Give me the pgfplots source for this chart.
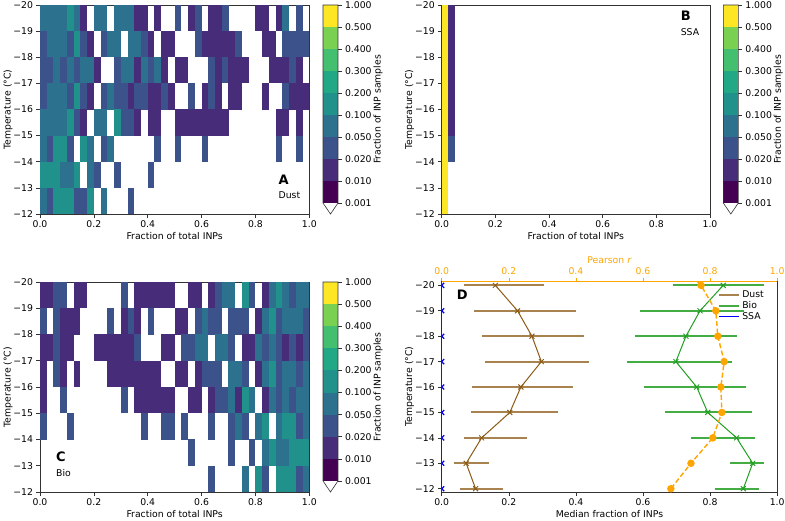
\documentclass[border=0pt]{standalone}
\usepackage{fontspec}
\setmainfont{DejaVu Sans}
\usepackage{pgfplots}
\usepackage{pgfplotstable}
\pgfplotsset{compat=1.18}

% colorbar classes: 0.001,0.01,0.02,0.05,0.1,0.2,0.3,0.4,0.5,1
\definecolor{v1}{RGB}{68,1,84}
\definecolor{v2}{RGB}{71,44,122}
\definecolor{v3}{RGB}{59,82,139}
\definecolor{v4}{RGB}{44,113,142}
\definecolor{v5}{RGB}{33,145,140}
\definecolor{v6}{RGB}{34,168,132}
\definecolor{v7}{RGB}{68,191,112}
\definecolor{v8}{RGB}{122,209,81}
\definecolor{v9}{RGB}{253,231,37}
\definecolor{dustc}{RGB}{139,90,20}
\definecolor{bioc}{RGB}{34,158,34}
\definecolor{mplorange}{RGB}{255,165,0}
\definecolor{spine}{gray}{0.2}

% one heat-map cell (0.025 wide, 1 degC high on these axes)
\pgfdeclareplotmark{hmbox}{%
  \pgfpathrectangle{\pgfpoint{-3.38pt}{-13.15pt}}{\pgfpoint{6.76pt}{26.3pt}}%
  \pgfusepathqfill}

\pgfplotsset{
  colormap={inp}{color(0cm)=(white) color(1cm)=(v1) color(2cm)=(v2) color(3cm)=(v3)
    color(4cm)=(v4) color(5cm)=(v5) color(6cm)=(v6) color(7cm)=(v7) color(8cm)=(v8)
    color(9cm)=(v9) color(10cm)=(v9)},
  every axis/.append style={font=\fontsize{9.3}{11}\selectfont},
  basic/.style={scale only axis, tick align=outside, major tick length=3.5pt,
    axis line style={spine, line width=0.6pt}, tick style={spine, line width=0.6pt},
    tick label style={font=\fontsize{9.3}{11}\selectfont},
    label style={font=\fontsize{9.3}{11}\selectfont}, xlabel shift=-3pt},
  temp/.style={ytick={-20,-19,...,-12},
    yticklabels={−20,−19,−18,−17,−16,−15,−14,−13,−12},
    ylabel={Temperature (°C)}, ylabel shift=-6pt, y dir=reverse},
  frac/.style={xmin=0, xmax=1, xtick={0,0.2,0.4,0.6,0.8,1},
    xticklabels={0.0,0.2,0.4,0.6,0.8,1.0}},
  hm/.style={basic, temp, frac, width=269.3pt, height=209pt, ymin=-20, ymax=-12,
    enlargelimits=false, axis on top, xlabel={Fraction of total INPs},
    xtick pos=left, ytick pos=left,
    colormap name=inp, colormap access=piecewise constant,
    point meta min=0, point meta max=10},
  cbar/.style={basic, width=15pt, xmin=0, xmax=1, ymin=-0.5, ymax=9,
    axis line style={draw=none}, xtick=\empty, ytick={0,...,9},
    yticklabels={0.001,0.010,0.020,0.050,0.100,0.200,0.300,0.400,0.500,1.000},
    ytick pos=right, yticklabel pos=right, ylabel={Fraction of INP samples},
    ylabel near ticks, ylabel shift=-5pt, clip=false},
  hmgrid/.style={scatter, only marks, mark=hmbox, point meta=explicit,
    scatter/use mapped color={draw=none, fill=mapped color},
    restrict expr to domain={\thisrow{b}}{0.5:9.5}},
}

% colour class of every cell (0 = no sample, 1..9 = colorbar bands),
% 40 columns of width 0.025, rows from -20 to -12 degC
\pgfplotstableread[row sep=\\]{
b\\
4\\4\\4\\4\\5\\4\\2\\0\\4\\4\\0\\4\\4\\4\\2\\2\\0\\2\\0\\0\\3\\0\\2\\3\\0\\2\\2\\3\\0\\0\\0\\0\\2\\2\\0\\2\\4\\0\\3\\0\\
3\\4\\4\\4\\3\\5\\3\\2\\0\\3\\4\\4\\0\\4\\4\\3\\2\\0\\2\\2\\0\\0\\0\\3\\2\\2\\2\\2\\2\\3\\0\\0\\0\\2\\2\\0\\3\\3\\3\\3\\
3\\3\\4\\3\\4\\3\\4\\4\\2\\0\\0\\3\\4\\4\\2\\4\\3\\4\\2\\0\\2\\2\\0\\0\\0\\3\\2\\3\\2\\2\\2\\0\\0\\0\\2\\2\\2\\3\\2\\0\\
3\\4\\4\\4\\3\\5\\3\\2\\0\\3\\4\\3\\3\\2\\3\\3\\2\\2\\3\\2\\0\\0\\3\\0\\2\\3\\2\\0\\2\\2\\0\\0\\0\\2\\0\\0\\3\\2\\2\\2\\
4\\4\\4\\4\\5\\3\\2\\0\\4\\4\\0\\5\\3\\3\\2\\0\\2\\2\\0\\0\\2\\2\\2\\2\\2\\2\\2\\2\\0\\0\\0\\0\\0\\0\\0\\2\\2\\0\\2\\0\\
4\\3\\5\\5\\3\\0\\5\\4\\0\\3\\4\\0\\0\\0\\0\\0\\0\\3\\0\\0\\3\\0\\0\\0\\3\\0\\0\\0\\0\\0\\0\\0\\0\\0\\0\\3\\0\\0\\3\\0\\
5\\5\\5\\4\\4\\5\\0\\4\\3\\0\\0\\3\\0\\0\\0\\0\\3\\0\\0\\0\\0\\0\\0\\0\\0\\0\\0\\0\\0\\0\\0\\0\\0\\0\\0\\0\\0\\0\\0\\0\\
4\\3\\5\\5\\5\\3\\3\\5\\0\\4\\0\\0\\0\\3\\0\\0\\0\\0\\0\\0\\0\\0\\0\\0\\0\\0\\0\\0\\0\\0\\0\\0\\0\\0\\0\\0\\0\\0\\0\\0\\
}\dustgrid

\pgfplotstableread[row sep=\\]{
b\\
9\\2\\
9\\2\\
9\\2\\
9\\2\\
9\\2\\
9\\3\\
9\\0\\
9\\0\\
}\ssagrid

\pgfplotstableread[row sep=\\]{
b\\
2\\2\\3\\3\\0\\2\\2\\0\\0\\0\\0\\0\\3\\0\\2\\2\\2\\2\\2\\2\\0\\0\\2\\2\\0\\2\\3\\4\\4\\0\\5\\3\\0\\2\\4\\5\\4\\3\\4\\4\\
3\\0\\3\\2\\2\\2\\0\\0\\0\\0\\3\\0\\2\\3\\2\\0\\3\\0\\0\\0\\2\\2\\0\\3\\4\\3\\3\\0\\3\\3\\3\\0\\2\\4\\5\\3\\4\\4\\4\\3\\
2\\2\\3\\2\\2\\0\\0\\0\\2\\2\\2\\2\\2\\2\\3\\0\\0\\0\\2\\2\\0\\3\\3\\4\\4\\0\\4\\4\\3\\0\\2\\2\\4\\3\\4\\3\\2\\3\\2\\3\\
2\\0\\3\\2\\0\\2\\0\\0\\0\\0\\2\\2\\2\\2\\2\\2\\2\\2\\0\\0\\2\\2\\0\\2\\3\\3\\3\\0\\4\\4\\3\\0\\2\\4\\5\\3\\4\\4\\3\\4\\
2\\0\\0\\3\\0\\0\\0\\0\\0\\0\\0\\0\\3\\0\\2\\2\\2\\2\\2\\2\\0\\0\\2\\2\\0\\2\\3\\3\\4\\2\\5\\4\\0\\2\\4\\3\\4\\3\\4\\4\\
3\\0\\0\\0\\3\\0\\0\\0\\0\\0\\0\\0\\0\\0\\0\\3\\0\\0\\3\\3\\0\\3\\0\\0\\0\\3\\0\\0\\3\\4\\3\\0\\4\\5\\0\\4\\5\\5\\3\\4\\
0\\0\\0\\0\\0\\0\\0\\0\\0\\0\\0\\0\\0\\0\\0\\0\\0\\0\\0\\0\\0\\0\\3\\0\\0\\0\\0\\0\\3\\0\\0\\3\\0\\4\\5\\4\\4\\5\\5\\5\\
0\\0\\0\\0\\0\\0\\0\\0\\0\\0\\0\\0\\0\\0\\0\\0\\0\\0\\0\\0\\0\\0\\0\\0\\0\\3\\0\\0\\0\\0\\4\\0\\5\\3\\0\\5\\5\\5\\3\\4\\
}\biogrid

\begin{document}
\begin{tikzpicture}[x=1pt,y=1pt]
\useasboundingbox (0,0) rectangle (785,520);

% ---------- A: dust
\begin{axis}[hm, at={(40pt,306pt)}, anchor=south west]
  \addplot[hmgrid] table[x index=0, y index=0,
    x expr={0.0125+0.025*mod(\coordindex,40)},
    y expr={-19.5+floor((\coordindex+0.5)/40)}, meta expr={\thisrow{b}+0.5}] {\dustgrid};
  \node[anchor=west, font=\fontsize{13}{14}\selectfont\bfseries] at (axis description cs:0.873,0.163) {A};
  \node[anchor=west] at (axis description cs:0.873,0.091) {Dust};
\end{axis}

% ---------- B: sea spray
\begin{axis}[hm, width=268.3pt, at={(441.7pt,306pt)}, anchor=south west]
  \addplot[hmgrid] table[x index=0, y index=0,
    x expr={0.0125+0.025*mod(\coordindex,2)},
    y expr={-19.5+floor((\coordindex+0.5)/2)}, meta expr={\thisrow{b}+0.5}] {\ssagrid};
  \node[anchor=west, font=\fontsize{13}{14}\selectfont\bfseries] at (axis description cs:0.878,0.949) {B};
  \node[anchor=west] at (axis description cs:0.878,0.869) {SSA};
\end{axis}

% ---------- C: biological
\begin{axis}[hm, height=210pt, at={(40pt,28pt)}, anchor=south west]
  \addplot[hmgrid] table[x index=0, y index=0,
    x expr={0.0125+0.025*mod(\coordindex,40)},
    y expr={-19.5+floor((\coordindex+0.5)/40)}, meta expr={\thisrow{b}+0.5}] {\biogrid};
  \node[anchor=west, font=\fontsize{13}{14}\selectfont\bfseries] at (axis description cs:0.047,0.168) {C};
  \node[anchor=west] at (axis description cs:0.047,0.089) {Bio};
\end{axis}

% ---------- colorbars
\foreach \cx/\cy/\ch in {323/306/209, 723.3/306/209, 323/28/210}{
\begin{axis}[cbar, height=\ch pt, at={(\cx pt,\cy pt)}, anchor=south west]
  \addplot[fill=v1, draw=none] coordinates {(0,0) (1,0) (1,1) (0,1)} -- cycle;
  \addplot[fill=v2, draw=none] coordinates {(0,1) (1,1) (1,2) (0,2)} -- cycle;
  \addplot[fill=v3, draw=none] coordinates {(0,2) (1,2) (1,3) (0,3)} -- cycle;
  \addplot[fill=v4, draw=none] coordinates {(0,3) (1,3) (1,4) (0,4)} -- cycle;
  \addplot[fill=v5, draw=none] coordinates {(0,4) (1,4) (1,5) (0,5)} -- cycle;
  \addplot[fill=v6, draw=none] coordinates {(0,5) (1,5) (1,6) (0,6)} -- cycle;
  \addplot[fill=v7, draw=none] coordinates {(0,6) (1,6) (1,7) (0,7)} -- cycle;
  \addplot[fill=v8, draw=none] coordinates {(0,7) (1,7) (1,8) (0,8)} -- cycle;
  \addplot[fill=v9, draw=none] coordinates {(0,8) (1,8) (1,9) (0,9)} -- cycle;
  \draw[spine, line width=0.6pt] (axis cs:0,0) -- (axis cs:0,9) -- (axis cs:1,9)
    -- (axis cs:1,0) -- (axis cs:0.5,-0.5) -- cycle;
\end{axis}
}

% ---------- D: medians
\begin{axis}[basic, temp, frac, width=335.5pt, height=210.7pt, at={(441.7pt,28pt)},
  anchor=south west, ymin=-20.16, ymax=-11.87, xtick pos=left, ytick pos=left,
  xlabel={Median fraction of INPs}, clip marker paths=true,
  legend style={at={(0.815,0.975)}, anchor=north west, draw=none, fill=none,
    font=\fontsize{9.3}{11}\selectfont, row sep=-1.5pt},
  legend cell align=left,
  legend image code/.code={\draw[#1] (0pt,0pt) -- (20pt,0pt);}]
  \addlegendimage{dustc, opacity=0.75, line width=2pt}
  \addlegendentry{Dust}
  \addlegendimage{bioc, opacity=0.85, line width=1.6pt}
  \addlegendentry{Bio}
  \addlegendimage{blue, line width=1pt}
  \addlegendentry{SSA}

  \addplot[draw=none, error bars/.cd, x dir=both, x explicit, error mark=none,
    error bar style={draw=dustc, opacity=0.75, line width=2pt}] coordinates {
    (0.160,-20) += (0.146,0) -= (0.095,0)
    (0.226,-19) += (0.175,0) -= (0.129,0)
    (0.269,-18) += (0.154,0) -= (0.149,0)
    (0.297,-17) += (0.143,0) -= (0.167,0)
    (0.236,-16) += (0.155,0) -= (0.145,0)
    (0.203,-15) += (0.144,0) -= (0.115,0)
    (0.119,-14) += (0.134,0) -= (0.054,0)
    (0.073,-13) += (0.067,0) -= (0.035,0)
    (0.101,-12) += (0.081,0) -= (0.046,0)
  };
  \addplot[dustc, line width=1pt, mark=x, mark size=3.5pt] coordinates {
    (0.160,-20) (0.226,-19) (0.269,-18) (0.297,-17) (0.236,-16)
    (0.203,-15) (0.119,-14) (0.073,-13) (0.101,-12)
  };

  \addplot[draw=none, error bars/.cd, x dir=both, x explicit, error mark=none,
    error bar style={draw=bioc, opacity=0.85, line width=2pt}] coordinates {
    (0.839,-20) += (0.123,0) -= (0.151,0)
    (0.770,-19) += (0.131,0) -= (0.179,0)
    (0.728,-18) += (0.151,0) -= (0.152,0)
    (0.698,-17) += (0.168,0) -= (0.145,0)
    (0.760,-16) += (0.147,0) -= (0.156,0)
    (0.793,-15) += (0.131,0) -= (0.126,0)
    (0.879,-14) += (0.055,0) -= (0.136,0)
    (0.927,-13) += (0.035,0) -= (0.068,0)
    (0.899,-12) += (0.047,0) -= (0.084,0)
  };
  \addplot[bioc, line width=1pt, mark=x, mark size=3.5pt] coordinates {
    (0.839,-20) (0.770,-19) (0.728,-18) (0.698,-17) (0.760,-16)
    (0.793,-15) (0.879,-14) (0.927,-13) (0.899,-12)
  };

  \addplot[blue, line width=1.2pt, mark=x, mark size=3.5pt] coordinates {
    (0,-20) (0,-19) (0,-18) (0,-17) (0,-16) (0,-15) (0,-14) (0,-13) (0,-12)
  };
  \node[anchor=west, font=\fontsize{13}{14}\selectfont\bfseries] at (axis description cs:0.035,0.934) {D};
\end{axis}

% ---------- D: Pearson r on the top axis
\begin{axis}[basic, frac, width=335.5pt, height=210.7pt, at={(441.7pt,28pt)},
  anchor=south west, ymin=-20.16, ymax=-11.87, y dir=reverse,
  axis x line*=top, axis y line=none, ytick=\empty, clip marker paths=true,
  axis line style={mplorange, line width=0.6pt}, tick style={mplorange},
  xticklabel style={text=mplorange}, xlabel style={text=mplorange},
  xlabel={Pearson \textit{r}}]
  \addplot[mplorange, line width=1.4pt, dash pattern=on 5pt off 2.5pt, mark=*,
    mark size=3pt, mark options={solid, fill=mplorange, draw=mplorange}] coordinates {
    (0.700,-21) (0.773,-20) (0.817,-19) (0.823,-18) (0.842,-17) (0.832,-16)
    (0.835,-15) (0.808,-14) (0.743,-13) (0.683,-12)
  };
\end{axis}
\end{tikzpicture}
\end{document}
